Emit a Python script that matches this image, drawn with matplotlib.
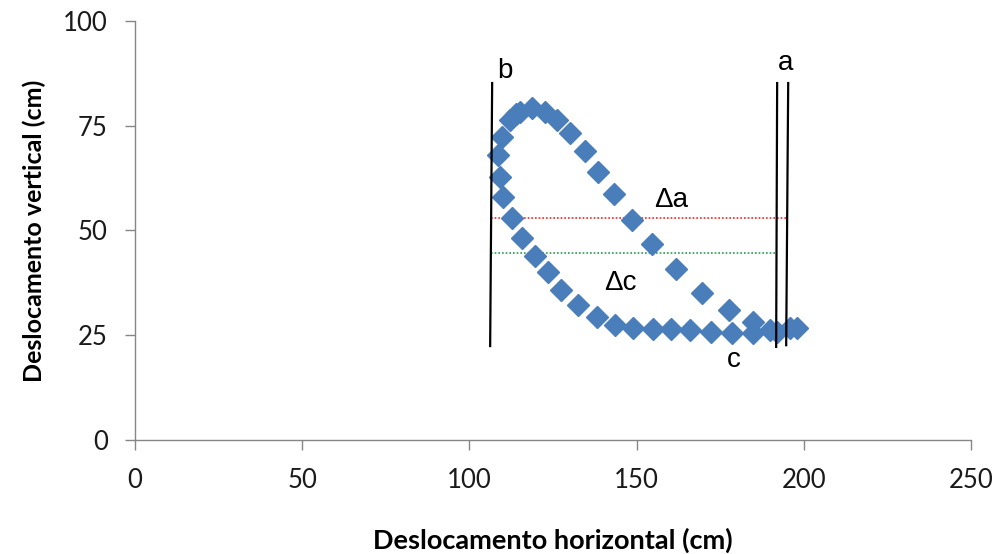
import matplotlib
matplotlib.use("Agg")
import matplotlib.pyplot as plt

# Trajectory points (horizontal, vertical displacement in cm)
x_upper = [108.6, 109.7, 112.1, 113.9, 115.1, 118.7, 122.6, 126.2, 130.1, 134.6,
           138.5, 143.2, 148.6, 154.6, 161.8, 169.6, 177.6, 184.8]
y_upper = [68.0, 72.3, 76.4, 77.8, 78.3, 79.2, 78.3, 76.4, 73.3, 69.0,
           64.0, 58.7, 52.5, 46.8, 40.8, 35.1, 31.0, 28.2]

x_lower = [109.2, 110.0, 112.7, 115.7, 119.6, 123.5, 127.4, 132.5, 138.2, 143.5,
           148.9, 154.9, 160.3, 166.0, 172.2, 178.5, 184.8, 189.9, 192.0, 195.9, 198.0]
y_lower = [62.8, 58.0, 53.0, 48.2, 43.9, 40.1, 35.8, 32.2, 29.4, 27.4,
           26.7, 26.5, 26.5, 26.3, 25.8, 25.5, 25.5, 26.3, 25.8, 26.7, 26.7]

# Reference marks: vertical boundaries b and a, levels for Δa and Δc
line_b = ([106.8, 106.2], [85.2, 22.4])
line_a1 = ([192.0, 191.7], [85.2, 22.2])
line_a2 = ([195.3, 194.7], [85.2, 22.6])
level_a = ([106.4, 194.8], [53.0, 53.0])
level_c = ([106.4, 192.0], [44.7, 44.7])

x_ticks = [0, 50, 100, 150, 200, 250]
y_ticks = [0, 25, 50, 75, 100]

fig = plt.figure(figsize=(9.92, 5.54), dpi=100)
ax = fig.add_axes([0.136, 0.206, 0.843, 0.756])

blue = "#4A7EBB"
ax.plot(x_upper + x_lower, y_upper + y_lower, linestyle="none", marker="D",
        markersize=11, color=blue, markeredgecolor=blue, zorder=3)

for xs, ys in (line_b, line_a1, line_a2):
    ax.plot(xs, ys, color="black", linewidth=1.6, zorder=4)
ax.plot(*level_a, color="#FF2020", linestyle=(0, (1, 1.2)), linewidth=1.2, zorder=2)
ax.plot(*level_c, color="#20A050", linestyle=(0, (1, 1.2)), linewidth=1.2, zorder=2)

label_font = dict(family=["Liberation Sans", "DejaVu Sans"], fontsize=20, color="black")
ax.text(110.7, 88.1, "b", ha="center", va="center", **label_font)
ax.text(194.5, 90.0, "a", ha="center", va="center", **label_font)
ax.text(160.3, 57.3, "\u0394a", ha="center", va="center", **label_font)
ax.text(145.0, 37.5, "\u0394c", ha="center", va="center", **label_font)
ax.text(178.9, 19.0, "c", ha="center", va="center", **label_font)

ax.set_xlim(0, 250)
ax.set_ylim(0, 100)
ax.set_xticks(x_ticks)
ax.set_yticks(y_ticks)

for side in ("top", "right"):
    ax.spines[side].set_visible(False)
for side in ("left", "bottom"):
    ax.spines[side].set_color("#868686")
    ax.spines[side].set_linewidth(1.0)

ax.tick_params(axis="both", direction="out", length=7.5, width=1.0,
               color="#868686", labelsize=18.5, labelcolor="#1a1a1a")
ax.tick_params(axis="x", pad=13)
ax.tick_params(axis="y", pad=12)
for lab in ax.get_xticklabels() + ax.get_yticklabels():
    lab.set_family("Lato")

ax.set_xlabel("Deslocamento horizontal (cm)", family="Lato", fontweight="bold",
              fontsize=19.5, labelpad=25)
ax.set_ylabel("Deslocamento vertical (cm)", family="Lato", fontweight="bold",
              fontsize=18, labelpad=12)

fig.savefig("out.png", dpi=100)
